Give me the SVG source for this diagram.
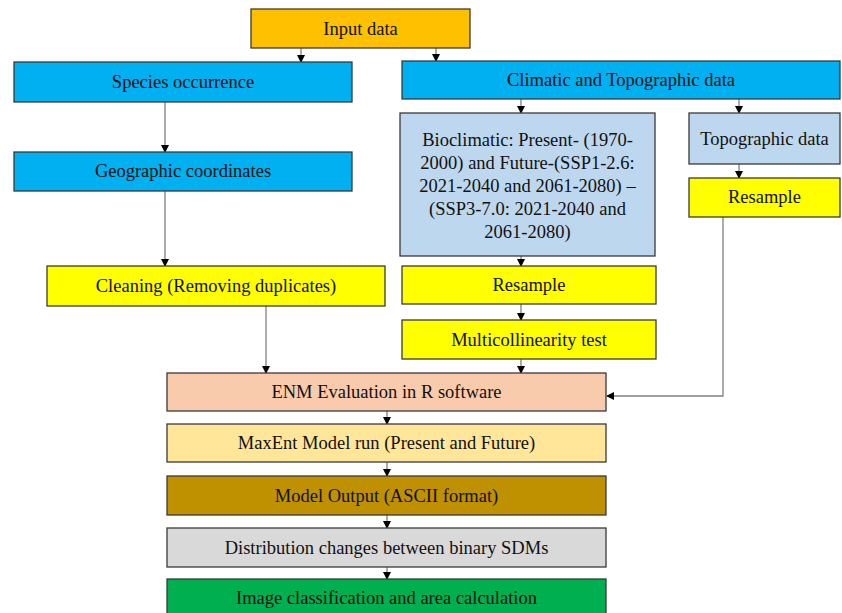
<svg xmlns="http://www.w3.org/2000/svg" width="842" height="613" viewBox="0 0 842 613">
<style>
.b{stroke:#3a3a3a;stroke-width:1.3}
.t{font-family:"Liberation Serif","Times New Roman",serif;font-size:18.5px;fill:#111;text-anchor:middle}
.c{stroke:#808080;stroke-width:1.3;fill:none}
</style>
<defs>
<marker id="ah" markerWidth="8" markerHeight="8" refX="7" refY="4" orient="auto" markerUnits="userSpaceOnUse">
<path d="M0,0 L8,4 L0,8 Z" fill="#000"/>
</marker>
</defs>
<rect width="842" height="613" fill="#fff"/>
<g id="connectors">
<line class="c" x1="301" y1="48" x2="301" y2="62" marker-end="url(#ah)"/>
<line class="c" x1="436" y1="48" x2="436" y2="61" marker-end="url(#ah)"/>
<line class="c" x1="165" y1="102" x2="165" y2="152" marker-end="url(#ah)"/>
<line class="c" x1="165" y1="191" x2="165" y2="266" marker-end="url(#ah)"/>
<line class="c" x1="521" y1="99" x2="521" y2="113" marker-end="url(#ah)"/>
<line class="c" x1="739" y1="99" x2="739" y2="113" marker-end="url(#ah)"/>
<line class="c" x1="739" y1="164" x2="739" y2="178" marker-end="url(#ah)"/>
<line class="c" x1="521" y1="256" x2="521" y2="266" marker-end="url(#ah)"/>
<line class="c" x1="521" y1="304" x2="521" y2="320" marker-end="url(#ah)"/>
<line class="c" x1="521" y1="359" x2="521" y2="373" marker-end="url(#ah)"/>
<line class="c" x1="266" y1="306" x2="266" y2="373" marker-end="url(#ah)"/>
<polyline class="c" points="723,217 723,396 607,396" marker-end="url(#ah)"/>
<line class="c" x1="387" y1="411" x2="387" y2="424" marker-end="url(#ah)"/>
<line class="c" x1="387" y1="462" x2="387" y2="476" marker-end="url(#ah)"/>
<line class="c" x1="387" y1="515" x2="387" y2="528" marker-end="url(#ah)"/>
<line class="c" x1="387" y1="567" x2="387" y2="579" marker-end="url(#ah)"/>
</g>
<g id="input"><rect class="b" x="251" y="9" width="219" height="39" fill="#FFC000"/><text class="t" x="360.5" y="35">Input data</text></g>
<g id="species"><rect class="b" x="14" y="62" width="338" height="40" fill="#00B0F0"/><text class="t" x="183" y="88">Species occurrence</text></g>
<g id="climatic"><rect class="b" x="402" y="61" width="438" height="38" fill="#00B0F0"/><text class="t" x="621" y="86">Climatic and Topographic data</text></g>
<g id="geo"><rect class="b" x="14" y="152" width="338" height="39" fill="#00B0F0"/><text class="t" x="183" y="177">Geographic coordinates</text></g>
<g id="bioclim"><rect class="b" x="400" y="113" width="255" height="143" fill="#BDD7EE"/>
<text class="t"><tspan x="527.5" y="146">Bioclimatic: Present- (1970-</tspan><tspan x="527.5" y="169">2000) and Future-(SSP1-2.6:</tspan><tspan x="527.5" y="192">2021-2040 and 2061-2080) –</tspan><tspan x="527.5" y="215">(SSP3-7.0: 2021-2040 and</tspan><tspan x="527.5" y="238">2061-2080)</tspan></text></g>
<g id="topo"><rect class="b" x="689" y="113" width="151" height="51" fill="#BDD7EE"/><text class="t" x="764.5" y="145">Topographic data</text></g>
<g id="resample2"><rect class="b" x="689" y="178" width="151" height="39" fill="#FFFF00"/><text class="t" x="764.5" y="203">Resample</text></g>
<g id="cleaning"><rect class="b" x="47" y="266" width="338" height="40" fill="#FFFF00"/><text class="t" x="216" y="292">Cleaning (Removing duplicates)</text></g>
<g id="resample1"><rect class="b" x="402" y="266" width="254" height="38" fill="#FFFF00"/><text class="t" x="529" y="291">Resample</text></g>
<g id="multi"><rect class="b" x="402" y="320" width="254" height="39" fill="#FFFF00"/><text class="t" x="529" y="346">Multicollinearity test</text></g>
<g id="enm"><rect class="b" x="167" y="373" width="439" height="38" fill="#F8CBAD"/><text class="t" x="386.5" y="398">ENM Evaluation in R software</text></g>
<g id="maxent"><rect class="b" x="167" y="424" width="439" height="38" fill="#FFE699"/><text class="t" x="386.5" y="449">MaxEnt Model run (Present and Future)</text></g>
<g id="output"><rect class="b" x="167" y="476" width="439" height="39" fill="#BF9000"/><text class="t" x="386.5" y="502">Model Output (ASCII format)</text></g>
<g id="distribution"><rect class="b" x="167" y="528" width="439" height="39" fill="#D9D9D9"/><text class="t" x="386.5" y="554">Distribution changes between binary SDMs</text></g>
<g id="image"><rect class="b" x="167" y="579" width="439" height="40" fill="#00B050"/><text class="t" x="386.5" y="604">Image classification and area calculation</text></g>
</svg>
